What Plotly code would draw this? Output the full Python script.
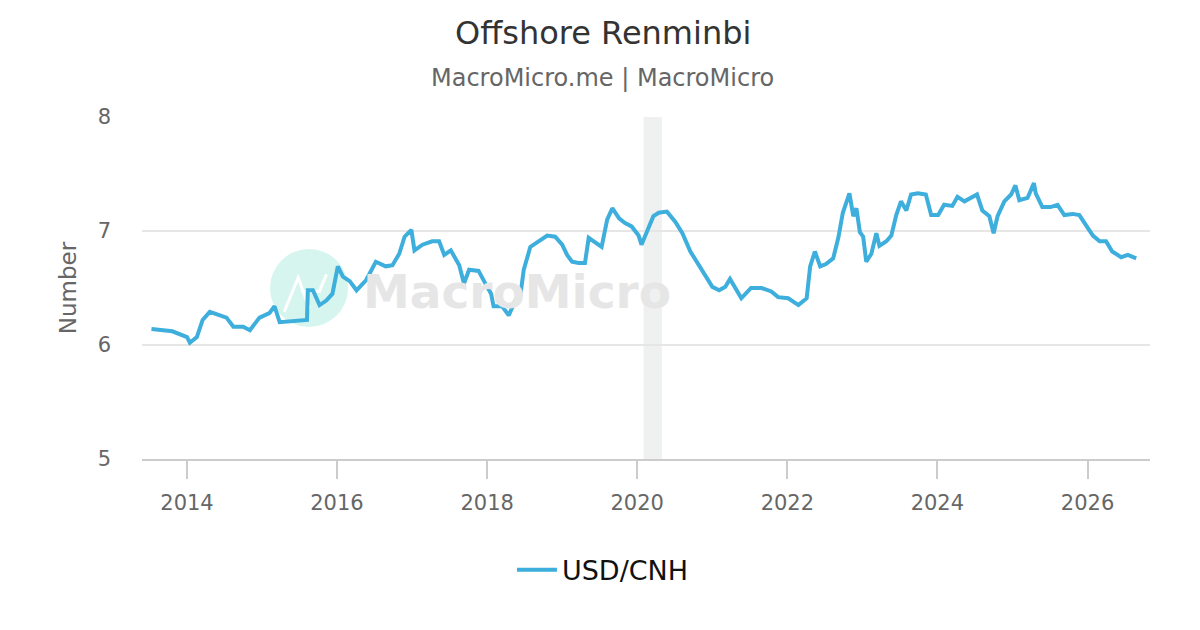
import plotly.graph_objects as go

dates = [
    "2013-07-12", "2013-10-22", "2014-01-01", "2014-01-15", "2014-02-18", "2014-03-18",
    "2014-04-22", "2014-06-10", "2014-07-12", "2014-08-15", "2014-10-01", "2014-11-03",
    "2014-12-20", "2015-02-06", "2015-03-03", "2015-03-28", "2015-05-30", "2015-08-08",
    "2015-08-12", "2015-09-06", "2015-10-08", "2015-11-10", "2015-12-10", "2016-01-05",
    "2016-01-30", "2016-03-03", "2016-04-05", "2016-05-22", "2016-07-08", "2016-08-25",
    "2016-09-27", "2016-10-30", "2016-11-25", "2016-12-28", "2017-01-12", "2017-02-20",
    "2017-04-08", "2017-05-12", "2017-06-06", "2017-07-08", "2017-08-18", "2017-09-10",
    "2017-10-05", "2017-11-20", "2018-01-01", "2018-01-20", "2018-02-01", "2018-03-15",
    "2018-04-16", "2018-05-18", "2018-06-12", "2018-06-28", "2018-07-30", "2018-08-25",
    "2018-10-20", "2018-11-28", "2019-01-01", "2019-01-25", "2019-02-18", "2019-03-22",
    "2019-04-22", "2019-05-10", "2019-06-02", "2019-07-12", "2019-08-08", "2019-09-02",
    "2019-10-05", "2019-11-03", "2019-12-05", "2020-01-08", "2020-01-22", "2020-02-25",
    "2020-03-20", "2020-04-15", "2020-05-25", "2020-07-05", "2020-08-08", "2020-09-16",
    "2020-10-26", "2020-11-28", "2021-01-01", "2021-02-03", "2021-03-05", "2021-03-28",
    "2021-04-20", "2021-05-22", "2021-07-08", "2021-08-28", "2021-10-15", "2021-11-17",
    "2022-01-05", "2022-02-24", "2022-04-05", "2022-04-22", "2022-05-15", "2022-06-10",
    "2022-07-08", "2022-08-12", "2022-09-06", "2022-09-28", "2022-10-30", "2022-11-18",
    "2022-12-03", "2022-12-20", "2023-01-05", "2023-01-20", "2023-02-14", "2023-03-10",
    "2023-03-25", "2023-04-28", "2023-05-22", "2023-06-15", "2023-07-08", "2023-08-03",
    "2023-08-26", "2023-09-28", "2023-11-06", "2023-12-02", "2024-01-05", "2024-02-03",
    "2024-03-14", "2024-04-08", "2024-05-12", "2024-06-14", "2024-07-12", "2024-08-07",
    "2024-09-10", "2024-10-01", "2024-10-20", "2024-11-22", "2024-12-25", "2025-01-15",
    "2025-02-03", "2025-03-15", "2025-04-15", "2025-04-24", "2025-05-26", "2025-07-05",
    "2025-08-08", "2025-09-10", "2025-10-20", "2025-11-22", "2025-12-25", "2026-01-27",
    "2026-03-01", "2026-04-01", "2026-05-01", "2026-06-14", "2026-07-16", "2026-08-26",
]
usd_cnh = [
    6.14, 6.12, 6.07, 6.02, 6.07, 6.22,
    6.29, 6.26, 6.24, 6.16, 6.16, 6.13,
    6.24, 6.28, 6.34, 6.20, 6.21, 6.22,
    6.48, 6.48, 6.35, 6.39, 6.45, 6.69,
    6.60, 6.56, 6.48, 6.57, 6.73, 6.69,
    6.70, 6.80, 6.95, 7.01, 6.83, 6.88,
    6.91, 6.91, 6.79, 6.83, 6.70, 6.54,
    6.66, 6.65, 6.51, 6.45, 6.34, 6.34,
    6.26, 6.39, 6.44, 6.66, 6.86, 6.89,
    6.96, 6.95, 6.88, 6.79, 6.73, 6.72,
    6.72, 6.94, 6.91, 6.86, 7.10, 7.20,
    7.11, 7.07, 7.04, 6.96, 6.88, 7.02,
    7.13, 7.16, 7.17, 7.08, 6.98, 6.82,
    6.70, 6.60, 6.51, 6.48, 6.51, 6.58,
    6.51, 6.41, 6.50, 6.50, 6.47, 6.42,
    6.41, 6.35, 6.41, 6.69, 6.82, 6.69,
    6.71, 6.76, 6.94, 7.16, 7.33, 7.13,
    7.20, 6.99, 6.95, 6.73, 6.80, 6.98,
    6.87, 6.91, 6.96, 7.14, 7.26, 7.18,
    7.32, 7.33, 7.32, 7.14, 7.14, 7.23,
    7.22, 7.30, 7.26, 7.29, 7.32, 7.18,
    7.13, 6.98, 7.13, 7.26, 7.32, 7.40,
    7.27, 7.29, 7.42, 7.33, 7.21, 7.21,
    7.23, 7.14, 7.15, 7.14, 7.05, 6.96,
    6.91, 6.91, 6.82, 6.77, 6.79, 6.76,
]
recession = ["2020-02-01", "2020-04-30"]
x_ticks = ["2014-01-01", "2016-01-01", "2018-01-01", "2020-01-01",
           "2022-01-01", "2024-01-01", "2026-01-01"]
x_tick_labels = ["2014", "2016", "2018", "2020", "2022", "2024", "2026"]
y_ticks = [5, 6, 7, 8]
title_text = "Offshore Renminbi"
subtitle_text = "MacroMicro.me | MacroMicro"

FONT = "DejaVu Sans, Verdana, sans-serif"

fig = go.Figure()
fig.add_trace(go.Scatter(
    x=dates, y=usd_cnh, mode="lines", name="USD/CNH",
    line=dict(color="#3eaedc", width=4),
))

# recession band
fig.add_vrect(x0=recession[0], x1=recession[1], fillcolor="#eff0f0",
              line_width=0, layer="below")

# watermark
fig.add_shape(type="circle", xref="paper", yref="paper",
              x0=0.1657 - 0.0387, x1=0.1657 + 0.0387, y0=0.5 - 0.114, y1=0.5 + 0.114,
              fillcolor="#d6f5ee", line_width=0, layer="below")
fig.add_shape(type="path", xref="paper", yref="paper",
              path="M 0.141,0.43 L 0.155,0.53 L 0.166,0.44 M 0.158,0.49 L 0.176,0.49 L 0.183,0.54",
              line=dict(color="white", width=3), layer="below")
fig.add_annotation(xref="paper", yref="paper", x=0.3725, y=0.49, text="<b>MacroMicro</b>",
                   showarrow=False, font=dict(family=FONT, size=47, color="#e6e6e6"))

# title & subtitle
fig.add_annotation(xref="paper", yref="paper", x=0.4573, y=1.2456, yanchor="middle",
                   text=title_text, showarrow=False,
                   font=dict(family=FONT, size=32, color="#333333"))
fig.add_annotation(xref="paper", yref="paper", x=0.4573, y=1.114, yanchor="middle",
                   text=subtitle_text, showarrow=False,
                   font=dict(family=FONT, size=24, color="#666666"))

fig.update_layout(
    width=1200, height=630,
    paper_bgcolor="white", plot_bgcolor="white",
    margin=dict(l=134, r=58, t=109, b=179),
    font=dict(family=FONT, color="#666666"),
    showlegend=True,
    legend=dict(orientation="h", x=0.4573, xanchor="center", y=-0.325, yanchor="middle",
                font=dict(family=FONT, size=27, color="#111111"), itemwidth=40),
    xaxis=dict(
        type="date", range=["2013-05-27", "2026-11-01"],
        tickvals=x_ticks, ticktext=x_tick_labels,
        showgrid=False, showline=True, linecolor="#cccccc", linewidth=2,
        ticks="outside", ticklen=18, tickcolor="#cccccc", tickwidth=2,
        ticklabelstandoff=6,
        tickfont=dict(size=21, color="#666666"), zeroline=False,
    ),
    yaxis=dict(
        range=[5, 8], tickvals=y_ticks, showgrid=True, gridcolor="#e6e6e6", gridwidth=2,
        zeroline=False, showline=False, ticks="", ticklabelstandoff=30,
        tickfont=dict(size=21, color="#666666"),
        title=dict(text="Number", font=dict(size=23, color="#666666"), standoff=14),
    ),
)

fig.write_html("out.html")
